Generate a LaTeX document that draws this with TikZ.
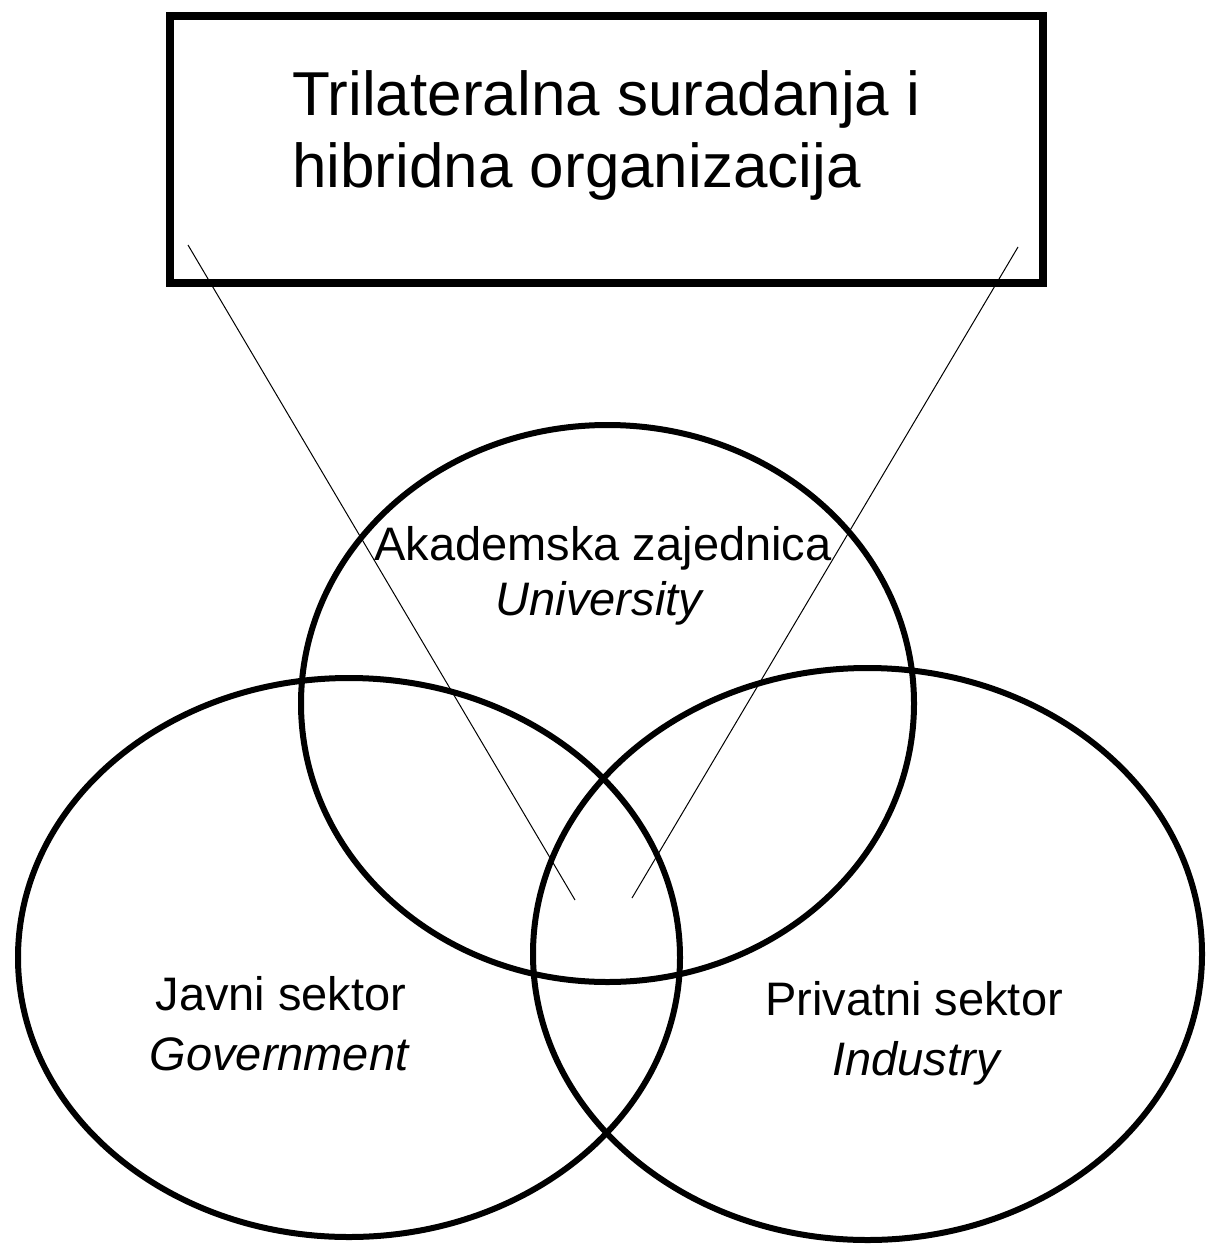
\documentclass[tikz,border=0pt]{standalone}
\usepackage{fontspec}
\setmainfont{Liberation Sans}
\usetikzlibrary{shapes.geometric}
\begin{document}
\begin{tikzpicture}[x=1pt,y=-1pt,
  sector/.style={draw, ellipse, line width=6pt, inner sep=0pt},
  bigtxt/.style={anchor=base west, inner sep=0pt, font=\fontsize{62}{70}\selectfont},
  lbl/.style={anchor=base, inner sep=0pt, font=\fontsize{47}{55}\selectfont},
  pointer/.style={line width=1pt}]
\useasboundingbox (0,0) rectangle (1206,1247);
\fill[white] (0,0) rectangle (1206,1247);
% title box
\node[draw, line width=8pt, minimum width=873pt, minimum height=267pt, inner sep=0pt] (box) at (606.5,149.5) {};
\node[bigtxt] (title1) at (292,115) {Trilateralna suradanja i};
\node[bigtxt] (title2) at (292,187) {hibridna organizacija};
% circles
\node[sector, minimum width=613pt, minimum height=557pt] (uni) at (607.5,703.5) {};
\node[sector, minimum width=662pt, minimum height=559pt] (gov) at (349,957.5) {};
\node[sector, minimum width=669pt, minimum height=572pt] (ind) at (867.5,954) {};
% labels
\node[lbl] (uni1) at (603,560) {Akademska zajednica};
\node[lbl] (uni2) at (599,615) {\itshape University};
\node[lbl] (gov1) at (281,1010) {Javni sektor};
\node[lbl] (gov2) at (279,1070) {\itshape Government};
\node[lbl] (ind1) at (914,1015) {Privatni sektor};
\node[lbl] (ind2) at (916,1075) {\itshape Industry};
% pointer lines
\coordinate (p1) at (188,245);
\coordinate (q1) at (575,900);
\coordinate (p2) at (1018,247);
\coordinate (q2) at (632,898);
\draw[pointer] (p1) -- (q1);
\draw[pointer] (p2) -- (q2);
\end{tikzpicture}
\end{document}
